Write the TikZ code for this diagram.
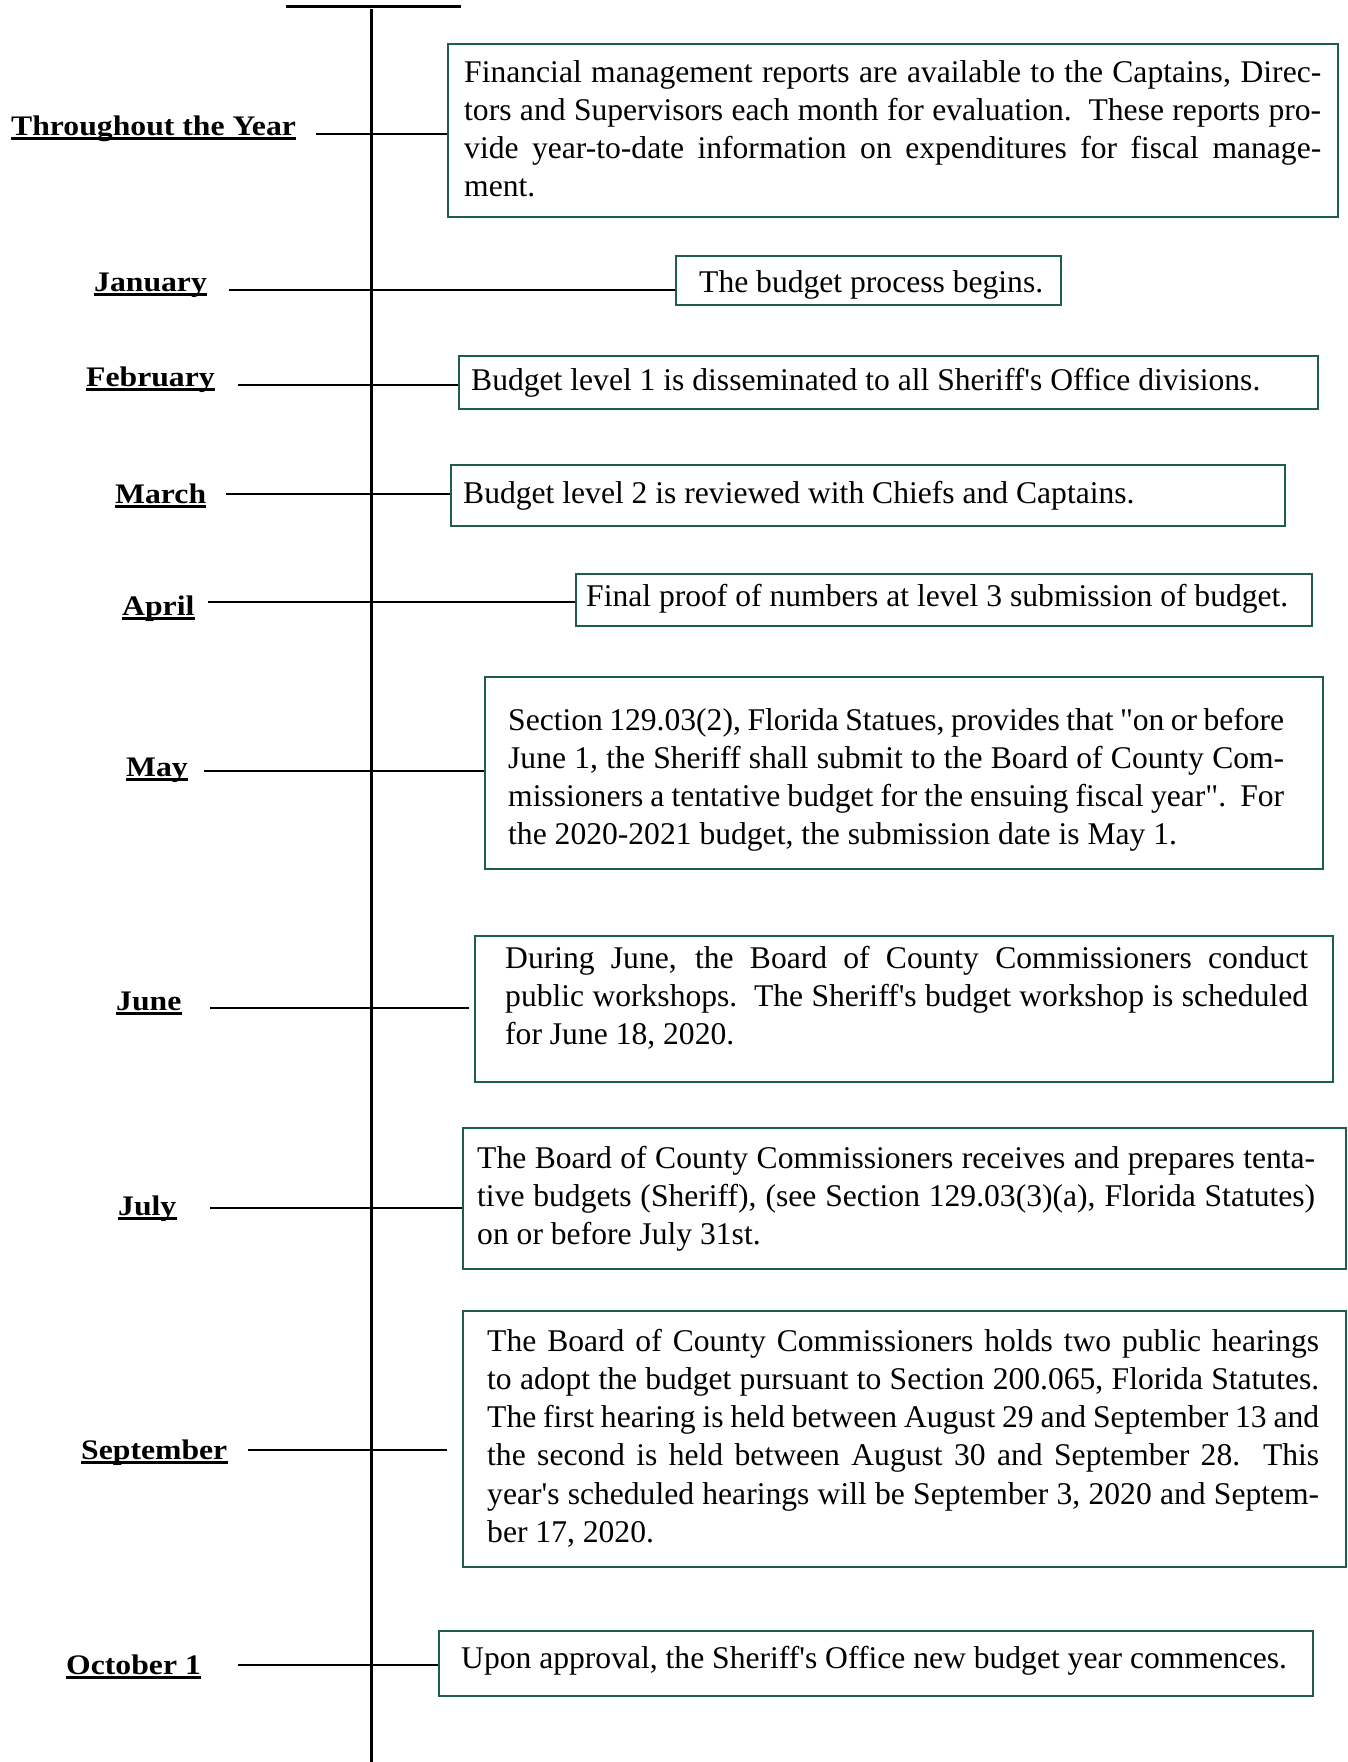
\documentclass[tikz,border=0pt]{standalone}
\usepackage{fontspec}
\setmainfont[Ligatures=TeXOff]{Liberation Serif}
\newfontfamily\lblfont[FakeStretch=1.12,Ligatures=TeXOff]{Liberation Serif}
\definecolor{boxgreen}{RGB}{31,94,73}
\newcommand\jl[1]{\makebox[\linewidth][s]{#1}\\}
\begin{document}
\begin{tikzpicture}[x=1pt,y=-1pt,
  axis/.style={line width=3pt,black},
  tick/.style={line width=2.8pt,black},
  box/.style={draw=boxgreen,line width=2.4pt,anchor=north west,inner sep=0pt},
  txt/.style={anchor=base west,inner sep=0pt,font=\fontsize{31.6pt}{38.3pt}\selectfont},
  lbl/.style={anchor=base west,inner sep=0pt,font=\lblfont\bfseries\fontsize{28.3pt}{30pt}\selectfont},
  uline/.style={line width=2.6pt}]
\useasboundingbox (0,0) rectangle (1347,1762);
\fill[white] (0,0) rectangle (1347,1762);

% axis
\coordinate (barL) at (286,6.5);
\coordinate (barR) at (461,6.5);
\coordinate (vTop) at (371,9);
\coordinate (vBot) at (371,1762);
\draw[axis] (barL) -- (barR);
\draw[axis] (vTop) -- (vBot);

% boxes
\node[box,minimum width=890pt,minimum height=173pt] (bThr) at (447,43) {};
\node[box,minimum width=385pt,minimum height=49pt] (bJan) at (675,255) {};
\node[box,minimum width=859pt,minimum height=53pt] (bFeb) at (458,355) {};
\node[box,minimum width=834pt,minimum height=61pt] (bMar) at (450,464) {};
\node[box,minimum width=736pt,minimum height=52pt] (bApr) at (575,573) {};
\node[box,minimum width=838pt,minimum height=192pt] (bMay) at (484,676) {};
\node[box,minimum width=858pt,minimum height=146pt] (bJun) at (474,935) {};
\node[box,minimum width=883pt,minimum height=141pt] (bJul) at (462,1127) {};
\node[box,minimum width=883pt,minimum height=256pt] (bSep) at (462,1310) {};
\node[box,minimum width=874pt,minimum height=65pt] (bOct) at (438,1630) {};

% box texts
\node[txt] (tThr) at (464,82) {\parbox[t]{857pt}{%
\jl{Financial management reports are available to the Captains, Direc-}%
\jl{tors and Supervisors each month for evaluation.\ \ These reports pro-}%
\jl{vide year-to-date information on expenditures for fiscal manage-}%
ment.}};
\node[txt] (tJan) at (699,292) {The budget process begins.};
\node[txt] (tFeb) at (471,390) {Budget level 1 is disseminated to all Sheriff's Office divisions.};
\node[txt] (tMar) at (463,503) {Budget level 2 is reviewed with Chiefs and Captains.};
\node[txt] (tApr) at (586,606) {Final proof of numbers at level 3 submission of budget.};
\node[txt] (tMay) at (508,730) {\parbox[t]{776pt}{%
\jl{Section 129.03(2), Florida Statues, provides that "on or before}%
\jl{June 1, the Sheriff shall submit to the Board of County Com-}%
\jl{missioners a tentative budget for the ensuing fiscal year".\ \ For}%
the 2020-2021 budget, the submission date is May 1.}};
\node[txt] (tJun) at (505,968) {\parbox[t]{803pt}{%
\jl{During June, the Board of County Commissioners conduct}%
\jl{public workshops.\ \ The Sheriff's budget workshop is scheduled}%
for June 18, 2020.}};
\node[txt] (tJul) at (477,1168) {\parbox[t]{838pt}{%
\jl{The Board of County Commissioners receives and prepares tenta-}%
\jl{tive budgets (Sheriff), (see Section 129.03(3)(a), Florida Statutes)}%
on or before July 31st.}};
\node[txt] (tSep) at (487,1351) {\parbox[t]{832pt}{%
\jl{The Board of County Commissioners holds two public hearings}%
\jl{to adopt the budget pursuant to Section 200.065, Florida Statutes.}%
\jl{The first hearing is held between August 29 and September 13 and}%
\jl{the second is held between August 30 and September 28.\ \ This}%
\jl{year's scheduled hearings will be September 3, 2020 and Septem-}%
ber 17, 2020.}};
\node[txt] (tOct) at (461,1668) {Upon approval, the Sheriff's Office new budget year commences.};

% labels
\node[lbl] (lThr) at (11,135) {Throughout the Year};
\node[lbl] (lJan) at (94,291) {January};
\node[lbl] (lFeb) at (86,386) {February};
\node[lbl] (lMar) at (115,503) {March};
\node[lbl] (lApr) at (122,615) {April};
\node[lbl] (lMay) at (126,776) {May};
\node[lbl] (lJun) at (116,1010) {June};
\node[lbl] (lJul) at (118,1215) {July};
\node[lbl] (lSep) at (81,1459) {September};
\node[lbl] (lOct) at (66,1674) {October 1};
\foreach \n in {lThr,lJan,lFeb,lMar,lApr,lMay,lJun,lJul,lSep,lOct}
  \draw[uline] ([yshift=-3.5pt]\n.base west) -- ([yshift=-3.5pt]\n.base east);

% ticks
\coordinate (kThr) at (316,134);
\coordinate (kJan) at (229,290);
\coordinate (kFeb) at (238,385);
\coordinate (kMar) at (226,494);
\coordinate (kApr) at (208,602);
\coordinate (kMay) at (204,771);
\coordinate (kJun) at (210,1008);
\coordinate (eJun) at (469,1008);
\coordinate (kJul) at (210,1208);
\coordinate (kSep) at (248,1450);
\coordinate (eSep) at (447,1450);
\coordinate (kOct) at (238,1665);
\draw[tick] (kThr) -- (kThr -| bThr.west);
\draw[tick] (kJan) -- (kJan -| bJan.west);
\draw[tick] (kFeb) -- (kFeb -| bFeb.west);
\draw[tick] (kMar) -- (kMar -| bMar.west);
\draw[tick] (kApr) -- (kApr -| bApr.west);
\draw[tick] (kMay) -- (kMay -| bMay.west);
\draw[tick] (kJun) -- (eJun);
\draw[tick] (kJul) -- (kJul -| bJul.west);
\draw[tick] (kSep) -- (eSep);
\draw[tick] (kOct) -- (kOct -| bOct.west);
\end{tikzpicture}
\end{document}
